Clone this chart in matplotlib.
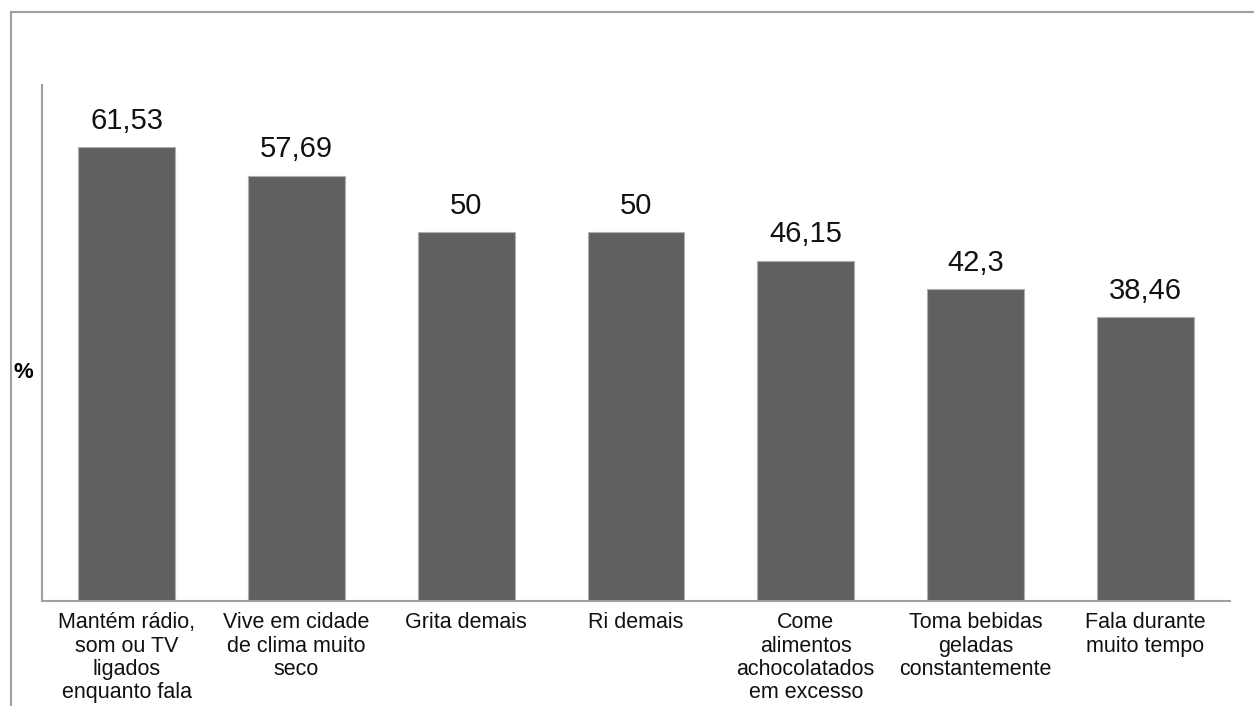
import matplotlib.pyplot as plt
from matplotlib.lines import Line2D

plt.rcParams['font.family'] = ['Liberation Sans', 'DejaVu Sans']

categorias = [
    'Mantém rádio,\nsom ou TV\nligados\nenquanto fala',
    'Vive em cidade\nde clima muito\nseco',
    'Grita demais',
    'Ri demais',
    'Come\nalimentos\nachocolatados\nem excesso',
    'Toma bebidas\ngeladas\nconstantemente',
    'Fala durante\nmuito tempo',
]
valores = [61.53, 57.69, 50, 50, 46.15, 42.3, 38.46]

W, H = 1254, 706
fig = plt.figure(figsize=(W / 100, H / 100), dpi=100)
ax = fig.add_axes([42 / W, 1 - 601 / H, (1230 - 42) / W, (601 - 85) / H])

x = range(len(valores))
barras = ax.bar(x, valores, width=0.57, color='#606060', edgecolor='#b0b0b0', linewidth=0.8)

# rótulos dos valores com vírgula decimal
for b, v in zip(barras, valores):
    ax.annotate(f'{v:g}'.replace('.', ','), (b.get_x() + b.get_width() / 2, v),
                xytext=(0, 9), textcoords='offset points',
                ha='center', va='bottom', fontsize=21, color='#111111')

ax.set_xlim(-0.5, len(valores) - 0.5)
ax.set_ylim(0, 70)
ax.set_xticks(list(x))
ax.set_xticklabels(categorias, fontsize=15.5, linespacing=1.15, color='#111111')
ax.tick_params(axis='x', length=0, pad=8)
ax.set_yticks([])

for s in ['top', 'right']:
    ax.spines[s].set_visible(False)
for s in ['left', 'bottom']:
    ax.spines[s].set_color('#a0a0a0')
    ax.spines[s].set_linewidth(1.5)

fig.text(13 / W, 1 - 373 / H, '%', fontsize=16, fontweight='bold', va='center', ha='left')

# moldura externa
xb, yb = 10.5 / W, 1 - 12 / H
fig.add_artist(Line2D([xb, 1], [yb, yb], color='#a0a0a0', lw=1.5))
fig.add_artist(Line2D([xb, xb], [0, yb], color='#a0a0a0', lw=1.5))

fig.savefig('out.png', dpi=100)
